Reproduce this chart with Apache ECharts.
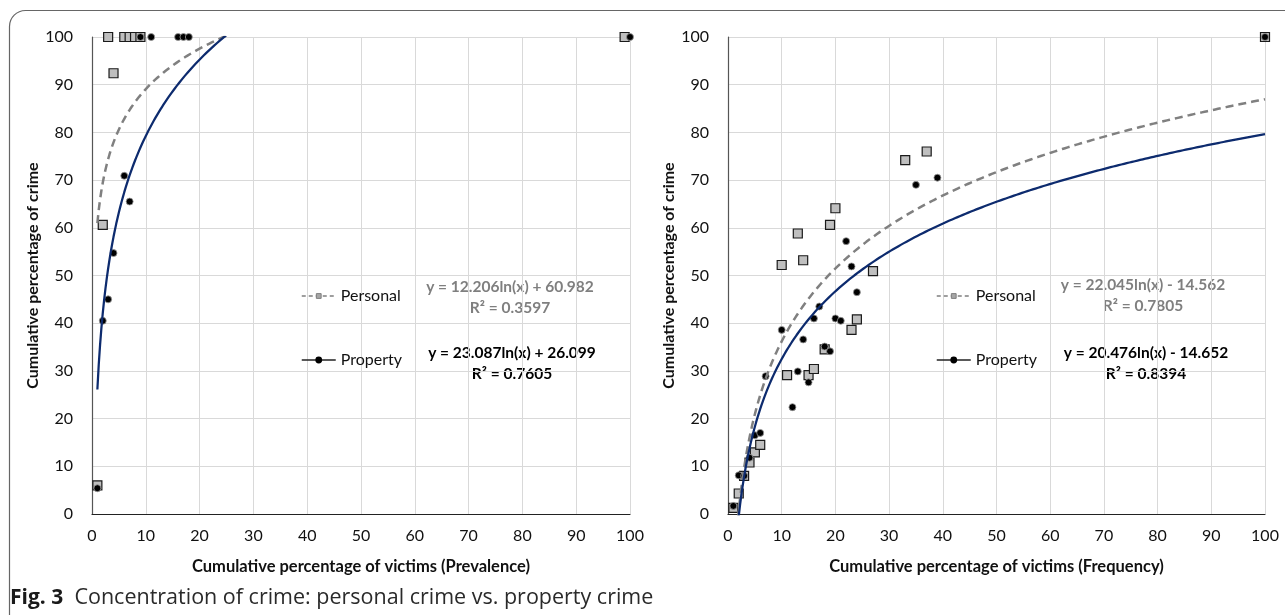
<!DOCTYPE html>
<html>
<head>
<meta charset="utf-8">
<script src="https://cdn.jsdelivr.net/npm/echarts@6/dist/echarts.min.js"></script>
<style>
html,body{margin:0;padding:0;background:#fff;}
#chart{width:1285px;height:615px;}
</style>
</head>
<body>
<div id="chart"></div>
<script>
// ---- Data ----
var tickValues = [0, 10, 20, 30, 40, 50, 60, 70, 80, 90, 100];

// Left panel: Prevalence
var prevPersonalX = [1, 2, 3, 4, 6, 7, 8, 9, 99];
var prevPersonalY = [6, 60.6, 100, 92.4, 100, 100, 100, 100, 100];
var prevPropertyX = [1, 2, 3, 4, 6, 7, 9, 11, 16, 17, 18, 100];
var prevPropertyY = [5.4, 40.5, 45, 54.7, 70.9, 65.5, 100, 100, 100, 100, 100, 100];

// Right panel: Frequency
var freqPersonalX = [1, 2, 3, 4, 5, 6, 10, 11, 13, 14, 15, 16, 18, 19, 20, 23, 24, 27, 33, 37, 100];
var freqPersonalY = [1.3, 4.3, 8, 10.8, 12.9, 14.5, 52.2, 29.1, 58.8, 53.2, 29.1, 30.4, 34.5, 60.6, 64.1, 38.6, 40.8, 50.9, 74.2, 76, 100];
var freqPropertyX = [1, 2, 3, 4, 5, 6, 7, 10, 12, 13, 14, 15, 16, 17, 18, 19, 20, 21, 22, 23, 24, 35, 39, 100];
var freqPropertyY = [1.7, 8.1, 8, 11.8, 16.5, 17, 28.9, 38.6, 22.4, 29.9, 36.6, 27.6, 41, 43.5, 35.1, 34.1, 41, 40.5, 57.2, 51.9, 46.5, 69, 70.5, 100];

// Logarithmic trendlines as printed on the chart: y = a*ln(x) + b
var prevPersonalFit = [12.206, 60.982];
var prevPropertyFit = [23.087, 26.099];
var freqPersonalFit = [22.045, -14.562];
var freqPropertyFit = [20.476, -14.652];

var fitLabels = {
  prevPersonal: ['y = 12.206ln(x) + 60.982', 'R\u00b2 = 0.3597'],
  prevProperty: ['y = 23.087ln(x) + 26.099', 'R\u00b2 = 0.7605'],
  freqPersonal: ['y = 22.045ln(x) - 14.562', 'R\u00b2 = 0.7805'],
  freqProperty: ['y = 20.476ln(x) - 14.652', 'R\u00b2 = 0.8394']
};

// ---- Helpers ----
function pairs(xs, ys){ return xs.map(function(x,i){ return [x, ys[i]]; }); }
function logCurve(fit){
  var pts = [];
  for (var i = 0; i <= 396; i++) {
    var x = 1 + i * 0.25;
    pts.push([x, fit[0] * Math.log(x) + fit[1]]);
  }
  return pts;
}

var FONT = 'Lato, "Open Sans", sans-serif';
var grey = '#7f7f7f';
var navy = '#0d2b6e';

function xAxisCfg(idx, name){
  return {
    gridIndex: idx, type: 'value', min: 0, max: 100, interval: 10,
    name: name, nameLocation: 'middle', nameGap: 44,
    nameTextStyle: {fontFamily: FONT, fontWeight: 'bold', fontSize: 16.5, color: '#111'},
    axisLine: {show: true, onZero: false, lineStyle: {color: '#222', width: 1.2}},
    axisTick: {show: false},
    axisLabel: {fontFamily: FONT, fontSize: 16, color: '#111', margin: 14},
    splitLine: {show: true, lineStyle: {color: '#d9d9d9', width: 1}}
  };
}
function yAxisCfg(idx){
  return {
    gridIndex: idx, type: 'value', min: 0, max: 100, interval: 10,
    name: 'Cumulative percentage of crime', nameLocation: 'middle', nameGap: 49,
    nameTextStyle: {fontFamily: FONT, fontWeight: 'bold', fontSize: 16, color: '#111'},
    axisLine: {show: true, onZero: false, lineStyle: {color: '#555', width: 1.2}},
    axisTick: {show: false},
    axisLabel: {fontFamily: FONT, fontSize: 16, color: '#111', margin: 19},
    splitLine: {show: true, lineStyle: {color: '#d9d9d9', width: 1}}
  };
}

function personalPoints(idx, data){
  return {
    name: 'Personal', type: 'line', xAxisIndex: idx, yAxisIndex: idx,
    data: data, symbol: 'rect', symbolSize: 9, showSymbol: true,
    lineStyle: {opacity: 0}, itemStyle: {color: '#bfbfbf', borderColor: '#1a1a1a', borderWidth: 1.2},
    emphasis: {disabled: true}, z: 3, animation: false
  };
}
function propertyPoints(idx, data){
  return {
    name: 'Property', type: 'line', xAxisIndex: idx, yAxisIndex: idx,
    data: data, symbol: 'circle', symbolSize: 7, showSymbol: true,
    lineStyle: {opacity: 0}, itemStyle: {color: '#000', borderColor: '#9a9a9a', borderWidth: 0.8},
    emphasis: {disabled: true}, z: 4, animation: false
  };
}
function trend(idx, fit, color, dashed, nm){
  return {
    name: nm + ' trend', type: 'line', xAxisIndex: idx, yAxisIndex: idx,
    data: logCurve(fit), showSymbol: false, smooth: false, clip: true,
    lineStyle: {color: color, width: dashed ? 2.5 : 2.25, type: dashed ? [8, 5] : 'solid'},
    emphasis: {disabled: true}, z: 5, silent: true, animation: false
  };
}

function legendCfg(left, top){
  return {
    left: left, top: top, orient: 'vertical', itemGap: 48, itemWidth: 34, itemHeight: 6,
    selectedMode: false,
    textStyle: {fontFamily: FONT, fontSize: 16, color: '#111'},
    data: [
      {name: 'Personal', lineStyle: {opacity: 1, color: grey, width: 1.5, type: [4, 3]},
       itemStyle: {color: '#a6a6a6', borderColor: grey, borderWidth: 1}},
      {name: 'Property', lineStyle: {opacity: 1, color: '#222', width: 1.5, type: 'solid'},
       itemStyle: {color: '#000', borderColor: '#000'}}
    ]
  };
}

function eqText(cx, cy, lines, color){
  return lines.map(function(t, i){
    return {
      type: 'text', x: cx, y: cy + i * 21,
      style: {text: t, fill: color, font: 'bold 15.5px ' + FONT, textAlign: 'center', textVerticalAlign: 'middle'}
    };
  });
}

var graphics = [
  {type: 'rect', shape: {x: 9.5, y: 10.5, width: 1600, height: 900, r: 16},
   style: {fill: 'none', stroke: '#666', lineWidth: 1.2}, silent: true, z: -1},
  {type: 'text', x: 10, y: 598, style: {
    text: '{b|Fig. 3}  Concentration of crime: personal crime vs. property crime',
    textVerticalAlign: 'middle', fill: '#2a2a2a', font: '21.5px "Open Sans", sans-serif',
    rich: {b: {fontWeight: 'bold', fontSize: 21, fontFamily: '"Open Sans", sans-serif', fill: '#1a1a1a'}}
  }}
];
graphics = graphics
  .concat(eqText(510, 287, fitLabels.prevPersonal, grey))
  .concat(eqText(512, 353, fitLabels.prevProperty, '#000'))
  .concat(eqText(1143, 285, fitLabels.freqPersonal, grey))
  .concat(eqText(1146, 353, fitLabels.freqProperty, '#000'));

var option = {
  backgroundColor: '#fff',
  animation: false,
  grid: [
    {left: 92, top: 37, width: 538, height: 477},
    {left: 728, top: 37, width: 537, height: 477}
  ],
  xAxis: [
    xAxisCfg(0, 'Cumulative percentage of victims (Prevalence)'),
    xAxisCfg(1, 'Cumulative percentage of victims (Frequency)')
  ],
  yAxis: [yAxisCfg(0), yAxisCfg(1)],
  legend: [legendCfg(296, 283), legendCfg(931, 283)],
  series: [
    personalPoints(0, pairs(prevPersonalX, prevPersonalY)),
    propertyPoints(0, pairs(prevPropertyX, prevPropertyY)),
    trend(0, prevPersonalFit, '#808080', true, 'Personal'),
    trend(0, prevPropertyFit, navy, false, 'Property'),
    personalPoints(1, pairs(freqPersonalX, freqPersonalY)),
    propertyPoints(1, pairs(freqPropertyX, freqPropertyY)),
    trend(1, freqPersonalFit, '#808080', true, 'Personal'),
    trend(1, freqPropertyFit, navy, false, 'Property')
  ],
  graphic: graphics
};

var chart = echarts.init(document.getElementById('chart'), null, {renderer: 'canvas'});
chart.setOption(option);
</script>
</body>
</html>
